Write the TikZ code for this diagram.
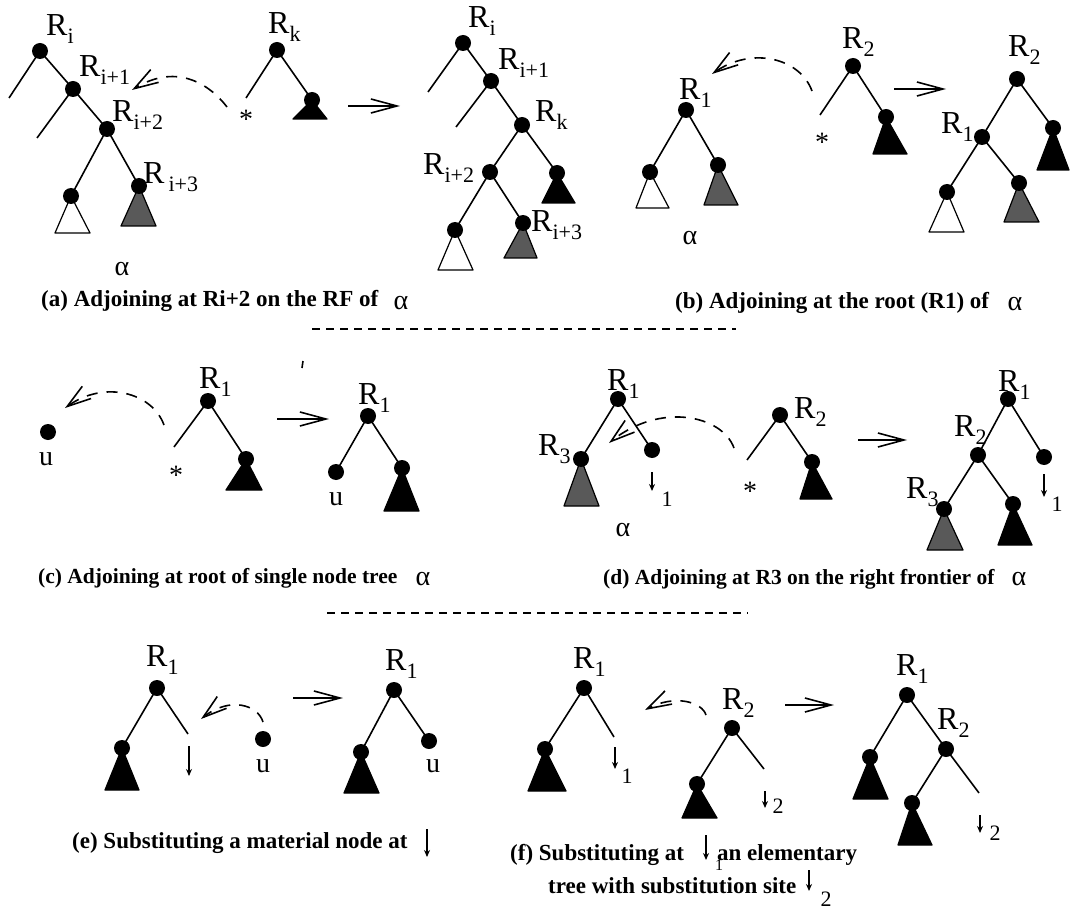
\documentclass[tikz,border=0pt]{standalone}
\usepackage{fontspec}
\setmainfont{Liberation Serif}
\usetikzlibrary{arrows.meta}

\newcommand{\Rn}[1]{R\raisebox{-8pt}{\fontsize{22}{22}\selectfont #1}}

\tikzset{
  dot/.style={circle, fill=black, inner sep=0pt, minimum size=16pt},
  branch/.style={line width=1.6pt},
  blacktri/.style={fill=black, draw=black, line width=1.2pt, line join=round},
  greytri/.style={fill=black!65, draw=black, line width=1.2pt, line join=round},
  whitetri/.style={fill=white, draw=black, line width=1.2pt, line join=round},
  lab/.style={inner sep=0pt, anchor=base west, font=\fontsize{32}{32}\selectfont},
  sym/.style={inner sep=0pt, font=\fontsize{28}{28}\selectfont},
  subnum/.style={inner sep=0pt, font=\fontsize{22}{22}\selectfont},
  capt/.style={inner sep=0pt, anchor=west, font=\fontsize{23}{23}\selectfont\bfseries},
  captsmall/.style={capt, font=\fontsize{21.5}{21.5}\selectfont\bfseries},
  adjoin/.style={line width=1.6pt, dash pattern=on 11pt off 9pt,
    -{Straight Barb[length=24pt,width=15pt,line width=1.6pt]}},
  yields/.style={line width=1.6pt, -{Straight Barb[length=26pt,width=14pt]}},
  site/.style={line width=1.2pt, -{Stealth[length=7pt,width=6pt]}},
  divider/.style={line width=1.2pt, dash pattern=on 8pt off 6pt},
}

\begin{document}
\begin{tikzpicture}[x=1pt, y=-1pt]
	\useasboundingbox (0,0) rectangle (1070,909);

	% (a) tree alpha
	\coordinate (a1) at (40,51);
	\coordinate (a2) at (73,89);
	\coordinate (a3) at (107,129);
	\coordinate (a4) at (71,196);
	\coordinate (a5) at (139,186);
	\coordinate (a1e) at (9,98);
	\coordinate (a2e) at (37,138);
	\draw[branch] (a1e) -- (a1) -- (a2) -- (a3) -- (a4);
	\draw[branch] (a2e) -- (a2);
	\draw[branch] (a3) -- (a5);
	\filldraw[whitetri] (a4) -- (55,233) -- (90,233) -- cycle;
	\filldraw[greytri] (a5) -- (121,226) -- (156,226) -- cycle;
	\node[lab] (a1l) at (46,36) {\Rn{i}};
	\node[lab] (a2l) at (79,77) {\Rn{i+1}};
	\node[lab] (a3l) at (112,122) {\Rn{i+2}};
	\node[lab] (a5l) at (143,184) {\Rn{\hspace{4pt}i+3}};
	\node[sym] (aal) at (122,269) {α};

	% (a) auxiliary tree R_k
	\coordinate (k1) at (277,50);
	\coordinate (k2) at (312,100);
	\coordinate (k1e) at (246,98);
	\draw[branch] (k1e) -- (k1) -- (k2);
	\filldraw[blacktri] (k2) -- (293,119) -- (327,119) -- cycle;
	\node[lab] (k1l) at (268,34) {\Rn{k}};
	\node[sym] (kst) at (246,119) {*};
	\coordinate (kfrom) at (227,107);
	\coordinate (kto) at (132,90);
	\draw[adjoin] (kfrom) .. controls (207,81) and (174,64) .. (kto);
	\draw[yields] (348,106) -- (400,106);

	% (a) result
	\coordinate (r1) at (463,43);
	\coordinate (r2) at (491,81);
	\coordinate (r3) at (522,125);
	\coordinate (r4) at (557,173);
	\coordinate (r5) at (490,172);
	\coordinate (r6) at (455,230);
	\coordinate (r7) at (523,223);
	\coordinate (r1e) at (428,92);
	\coordinate (r2e) at (456,127);
	\draw[branch] (r1e) -- (r1) -- (r2) -- (r3) -- (r4);
	\draw[branch] (r2e) -- (r2);
	\draw[branch] (r3) -- (r5) -- (r6);
	\draw[branch] (r5) -- (r7);
	\filldraw[blacktri] (r4) -- (542,203) -- (575,203) -- cycle;
	\filldraw[whitetri] (r6) -- (438,270) -- (473,270) -- cycle;
	\filldraw[greytri] (r7) -- (504,258) -- (537,258) -- cycle;
	\node[lab] (r1l) at (468,28) {\Rn{i}};
	\node[lab] (r2l) at (498,70) {\Rn{i+1}};
	\node[lab] (r3l) at (535,122) {\Rn{k}};
	\node[lab] (r5l) at (423,175) {\Rn{i+2}};
	\node[lab] (r7l) at (531,232) {\Rn{i+3}};
	\node[capt] (capa) at (41,301) {(a) Adjoining at Ri+2 on the RF of};
	\node[sym] (capaal) at (401,303) {α};

	% (b) tree alpha
	\coordinate (b1) at (686,110);
	\coordinate (b2) at (650,172);
	\coordinate (b3) at (718,165);
	\draw[branch] (b2) -- (b1) -- (b3);
	\filldraw[whitetri] (b2) -- (636,208) -- (669,208) -- cycle;
	\filldraw[greytri] (b3) -- (704,205) -- (738,205) -- cycle;
	\node[lab] (b1l) at (679,100) {\Rn{1}};
	\node[sym] (bal) at (690,238) {α};

	% (b) auxiliary tree R_2
	\coordinate (s1) at (853,66);
	\coordinate (s2) at (886,117);
	\coordinate (s1e) at (820,115);
	\draw[branch] (s1e) -- (s1) -- (s2);
	\filldraw[blacktri] (s2) -- (873,154) -- (907,154) -- cycle;
	\node[lab] (s1l) at (842,49) {\Rn{2}};
	\node[sym] (sst) at (822,142) {*};
	\coordinate (sfrom) at (812,91);
	\coordinate (sto) at (712,74);
	\draw[adjoin] (sfrom) .. controls (800,58) and (752,46) .. (sto);
	\draw[yields] (894,89) -- (946,89);

	% (b) result
	\coordinate (t1) at (1017,79);
	\coordinate (t2) at (982,137);
	\coordinate (t3) at (1053,128);
	\coordinate (t4) at (947,192);
	\coordinate (t5) at (1019,183);
	\draw[branch] (t4) -- (t2) -- (t1) -- (t3);
	\draw[branch] (t2) -- (t5);
	\filldraw[blacktri] (t3) -- (1037,170) -- (1069,170) -- cycle;
	\filldraw[whitetri] (t4) -- (929,232) -- (964,232) -- cycle;
	\filldraw[greytri] (t5) -- (1004,222) -- (1039,222) -- cycle;
	\node[lab] (t1l) at (1008,57) {\Rn{2}};
	\node[lab] (t2l) at (941,134) {\Rn{1}};
	\node[capt] (capb) at (675,303) {(b) Adjoining at the root (R1) of};
	\node[sym] (capbal) at (1015,304) {α};

	\draw[divider] (312,329) -- (736,329);

	% (c) single node tree
	\coordinate (c0) at (48,432);
	\node[sym] (c0l) at (46,459) {u};
	\coordinate (c1) at (208,401);
	\coordinate (c2) at (246,459);
	\coordinate (c1e) at (174,447);
	\draw[branch] (c1e) -- (c1) -- (c2);
	\filldraw[blacktri] (c2) -- (226,490) -- (262,490) -- cycle;
	\node[lab] (c1l) at (199,388) {\Rn{1}};
	\node[sym] (cst) at (176,475) {*};
	\coordinate (cfrom) at (164,425);
	\coordinate (cto) at (65,408);
	\draw[adjoin] (cfrom) .. controls (152,392) and (104,380) .. (cto);
	\draw[line width=1.6pt] (303,361) -- (302,368);
	\draw[yields] (277,419) -- (329,419);

	% (c) result
	\coordinate (e1) at (368,416);
	\coordinate (e2) at (336,472);
	\coordinate (e3) at (402,468);
	\draw[branch] (e2) -- (e1) -- (e3);
	\filldraw[blacktri] (e3) -- (384,511) -- (419,511) -- cycle;
	\node[lab] (e1l) at (358,404) {\Rn{1}};
	\node[sym] (e2l) at (336,499) {u};
	\node[captsmall] (capc) at (38,578) {(c) Adjoining at root of single node tree};
	\node[sym] (capcal) at (423,579) {α};

	% (d) tree alpha
	\coordinate (d1) at (618,399);
	\coordinate (d2) at (581,459);
	\coordinate (d3) at (652,450);
	\draw[branch] (d2) -- (d1) -- (d3);
	\filldraw[greytri] (d2) -- (564,506) -- (599,506) -- cycle;
	\draw[site] (652,472) -- (652,491);
	\node[subnum] (d3n) at (667,499) {1};
	\node[lab] (d1l) at (607,390) {\Rn{1}};
	\node[lab] (d2l) at (538,455) {\Rn{3}};
	\node[sym] (dal) at (623,530) {α};

	% (d) auxiliary tree R_2
	\coordinate (g1) at (780,415);
	\coordinate (g2) at (812,462);
	\coordinate (g1e) at (747,460);
	\draw[branch] (g1e) -- (g1) -- (g2);
	\filldraw[blacktri] (g2) -- (800,499) -- (832,499) -- cycle;
	\node[lab] (g1l) at (794,418) {\Rn{2}};
	\node[sym] (gst) at (750,491) {*};
	\coordinate (gfrom) at (734,448);
	\coordinate (gto) at (609,443);
	\draw[adjoin] (gfrom) .. controls (722,415) and (660,402) .. (gto);
	\draw[yields] (858,440) -- (907,440);

	% (d) result
	\coordinate (h1) at (1008,399);
	\coordinate (h2) at (978,455);
	\coordinate (h3) at (1044,457);
	\coordinate (h4) at (944,509);
	\coordinate (h5) at (1013,504);
	\draw[branch] (h4) -- (h2) -- (h1) -- (h3);
	\draw[branch] (h2) -- (h5);
	\filldraw[greytri] (h4) -- (927,550) -- (963,550) -- cycle;
	\filldraw[blacktri] (h5) -- (998,545) -- (1032,545) -- cycle;
	\draw[site] (1044,474) -- (1044,497);
	\node[subnum] (h3n) at (1057,504) {1};
	\node[lab] (h1l) at (998,391) {\Rn{1}};
	\node[lab] (h2l) at (954,436) {\Rn{2}};
	\node[lab] (h4l) at (906,498) {\Rn{3}};
	\node[captsmall] (capd) at (603,579) {(d) Adjoining at R3 on the right frontier of};
	\node[sym] (capdal) at (1019,579) {α};

	\draw[divider] (327,613) -- (748,613);

	% (e) substitution of a material node
	\coordinate (p1) at (157,688);
	\coordinate (p2) at (122,748);
	\coordinate (p1e) at (188,734);
	\draw[branch] (p2) -- (p1) -- (p1e);
	\filldraw[blacktri] (p2) -- (105,790) -- (139,790) -- cycle;
	\draw[site] (189,746) -- (189,776);
	\node[lab] (p1l) at (146,666) {\Rn{1}};
	\coordinate (q0) at (263,739);
	\node[sym] (q0l) at (263,766) {u};
	\coordinate (qfrom) at (263,722);
	\coordinate (qto) at (201,719);
	\draw[adjoin] (qfrom) .. controls (258,705) and (230,696) .. (qto);
	\draw[yields] (293,698) -- (343,698);

	% (e) result
	\coordinate (w1) at (394,690);
	\coordinate (w2) at (361,752);
	\coordinate (w3) at (429,741);
	\draw[branch] (w2) -- (w1) -- (w3);
	\filldraw[blacktri] (w2) -- (344,793) -- (379,793) -- cycle;
	\node[lab] (w1l) at (385,670) {\Rn{1}};
	\node[sym] (w3l) at (433,766) {u};
	\node[capt] (cape) at (72,843) {(e) Substituting a material node at};
	\draw[site] (427,829) -- (427,857);

	% (f) tree alpha
	\coordinate (f1) at (584,688);
	\coordinate (f2) at (545,749);
	\coordinate (f1e) at (614,737);
	\draw[branch] (f2) -- (f1) -- (f1e);
	\filldraw[blacktri] (f2) -- (528,791) -- (566,791) -- cycle;
	\draw[site] (615,747) -- (615,769);
	\node[subnum] (f1n) at (627,776) {1};
	\node[lab] (f1l) at (573,668) {\Rn{1}};

	% (f) elementary tree R_2
	\coordinate (m1) at (732,728);
	\coordinate (m2) at (697,784);
	\coordinate (m1e) at (764,769);
	\draw[branch] (m2) -- (m1) -- (m1e);
	\filldraw[blacktri] (m2) -- (682,818) -- (717,818) -- cycle;
	\draw[site] (765,791) -- (765,808);
	\node[subnum] (m1n) at (778,806) {2};
	\node[lab] (m1l) at (722,709) {\Rn{2}};
	\coordinate (mfrom) at (706,715);
	\coordinate (mto) at (645,710);
	\draw[adjoin] (mfrom) .. controls (702,702) and (675,694) .. (mto);
	\draw[yields] (785,705) -- (834,705);

	% (f) result
	\coordinate (n1) at (907,695);
	\coordinate (n2) at (870,757);
	\coordinate (n3) at (946,749);
	\coordinate (n4) at (912,803);
	\coordinate (n3e) at (979,793);
	\draw[branch] (n2) -- (n1) -- (n3) -- (n4);
	\draw[branch] (n3) -- (n3e);
	\filldraw[blacktri] (n2) -- (853,799) -- (888,799) -- cycle;
	\filldraw[blacktri] (n4) -- (898,845) -- (932,845) -- cycle;
	\draw[site] (980,815) -- (980,833);
	\node[subnum] (n3n) at (995,833) {2};
	\node[lab] (n1l) at (896,675) {\Rn{1}};
	\node[lab] (n3l) at (937,729) {\Rn{2}};
	\node[capt] (capf) at (510,855) {(f) Substituting at};
	\draw[site] (706,835) -- (706,860);
	\node[subnum, font=\fontsize{16}{16}\selectfont] (capf1) at (719,865) {1};
	\node[capt] (capf2) at (717,855) {an elementary};
	\node[capt] (capf3) at (548,886) {tree with substitution site};
	\draw[site] (809,870) -- (809,891);
	\node[subnum] (capf4) at (826,899) {2};

	% the tree nodes
	\foreach \n in {a1,a2,a3,a4,a5,k1,k2,r1,r2,r3,r4,r5,r6,r7,
	                b1,b2,b3,s1,s2,t1,t2,t3,t4,t5,
	                c0,c1,c2,e1,e2,e3,d1,d2,d3,g1,g2,h1,h2,h3,h4,h5,
	                p1,p2,q0,w1,w2,w3,f1,f2,m1,m2,n1,n2,n3,n4}
		\node[dot] (\n d) at (\n) {};
\end{tikzpicture}
\end{document}
